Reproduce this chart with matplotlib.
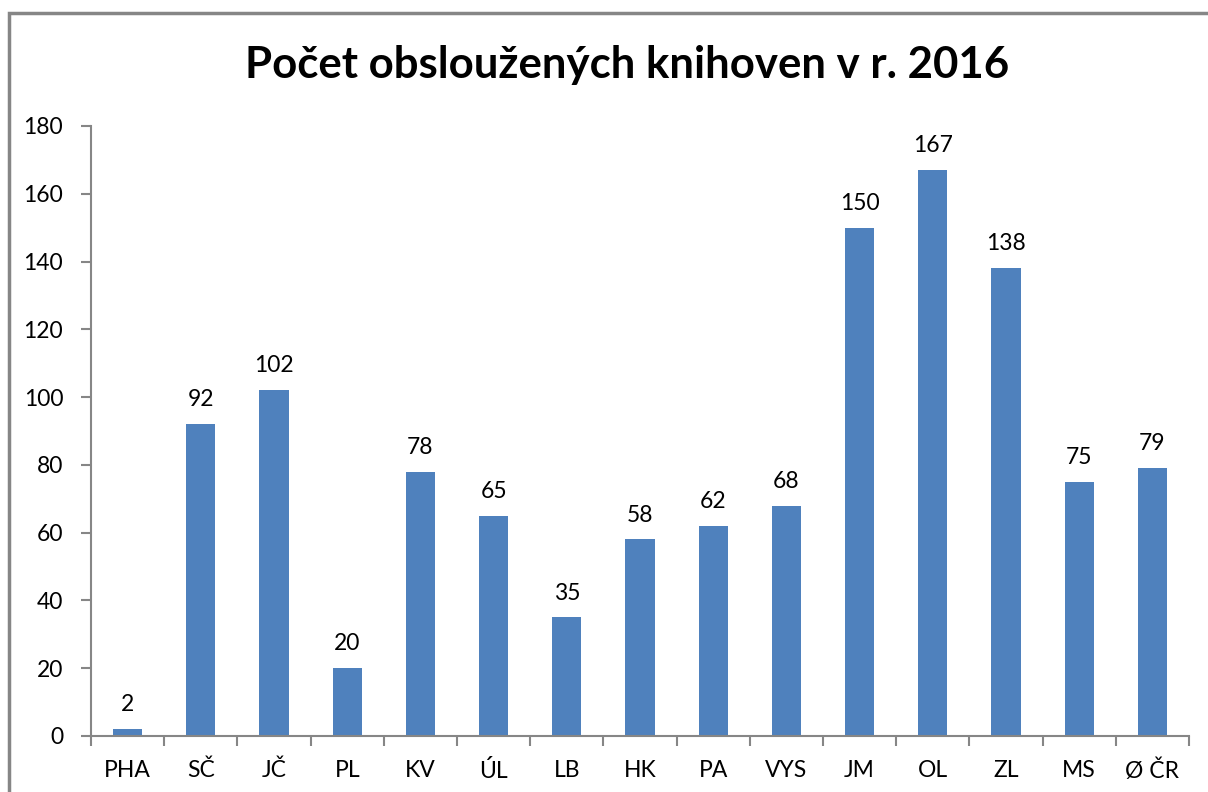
import matplotlib.pyplot as plt
from matplotlib.patches import Rectangle

regions = ["PHA", "SČ", "JČ", "PL", "KV", "ÚL", "LB", "HK", "PA", "VYS",
           "JM", "OL", "ZL", "MS", "Ø ČR"]
libraries = [2, 92, 102, 20, 78, 65, 35, 58, 62, 68, 150, 167, 138, 75, 79]
yticks = list(range(0, 181, 20))

plt.rcParams['font.family'] = ['Lato', 'DejaVu Sans']
grey = '#868686'
blue = '#4f81bd'

W, H = 1208, 792
fig = plt.figure(figsize=(W / 100, H / 100), dpi=100)
fig.patches.append(Rectangle((8.5 / W, -0.1), 1.2, 1 - 12.5 / H + 0.1,
                             transform=fig.transFigure, fill=False,
                             edgecolor=grey, linewidth=2.5))

ax = fig.add_axes([91 / W, 1 - 736 / H, (1189 - 91) / W, (736 - 126) / H])
x = list(range(len(regions)))
ax.bar(x, libraries, width=0.4, color=blue)
for xi, v in zip(x, libraries):
    ax.annotate(str(v), (xi, v), xytext=(0, 10), textcoords='offset points',
                ha='center', va='bottom', fontsize=16.5)

ax.set_xlim(-0.5, len(regions) - 0.5)
ax.set_ylim(0, 180)
ax.set_yticks(yticks)
ax.set_xticks(x)
ax.set_xticklabels(regions)
ax.set_xticks([i - 0.5 for i in range(len(regions) + 1)], minor=True)
ax.tick_params(axis='x', which='major', length=0, pad=17, labelsize=16.5)
ax.tick_params(axis='x', which='minor', length=7, color=grey, width=1.5)
ax.tick_params(axis='y', length=7, color=grey, width=1.5, pad=13, labelsize=16.5)

for s in ['top', 'right']:
    ax.spines[s].set_visible(False)
for s in ['left', 'bottom']:
    ax.spines[s].set_color(grey)
    ax.spines[s].set_linewidth(1.5)

fig.text(0.519, 1 - 65 / H, "Počet obsloužených knihoven v r. 2016",
         ha='center', va='center', fontsize=31.5, fontweight='bold')

fig.savefig('out.png', dpi=100)
